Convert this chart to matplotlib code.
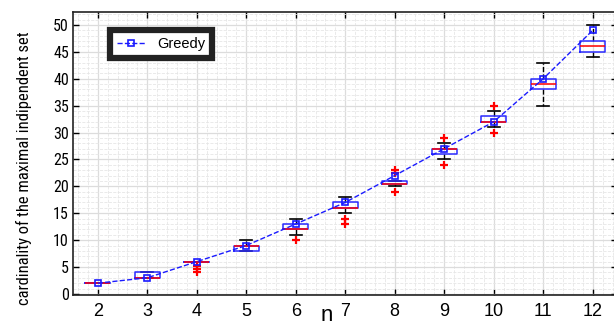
import numpy as np
import matplotlib
matplotlib.use('Agg')
import matplotlib.pyplot as plt
from matplotlib import font_manager
from matplotlib.ticker import MultipleLocator, AutoMinorLocator

# data
n_values = [2, 3, 4, 5, 6, 7, 8, 9, 10, 11, 12]
q1 = [2, 3, 6, 8, 12, 16, 20.5, 26, 32, 38, 45]
med = [2, 3, 6, 9, 12, 16, 20.5, 27, 32, 39, 46]
q3 = [2, 4, 6, 9, 13, 17, 21, 27, 33, 40, 47]
whislo = [2, 3, 6, 8, 11, 15, 20, 25, 31, 35, 44]
whishi = [2, 4, 6, 10, 14, 18, 21, 28, 34, 43, 50]
fliers = [[], [], [5.1, 4.7, 4], [], [10], [14, 13], [23, 22.4, 19], [29, 24], [35, 30], [], []]
greedy = [2, 3, 6, 9, 13, 17, 22, 27, 32, 40, 49]

names = {f.name for f in font_manager.fontManager.ttflist}
narrow = next((n for n in ['Liberation Sans Narrow', 'DejaVu Sans Condensed', 'Roboto Condensed']
               if n in names), 'Liberation Sans')

fig = plt.figure(figsize=(6.14, 3.27), dpi=100)
ax = fig.add_axes([73 / 614, 32 / 327, 544.5 / 614, 283 / 327])

stats = []
for i in range(len(n_values)):
    stats.append(dict(q1=q1[i], med=med[i], q3=q3[i], whislo=whislo[i],
                      whishi=whishi[i], fliers=fliers[i]))

# caps/whiskers under the boxes, like matlab
ax.bxp(stats, positions=n_values, widths=0.5, manage_ticks=False,
       boxprops=dict(color='#2a2aff', linewidth=1.1, zorder=4),
       medianprops=dict(color='red', linewidth=1.1, zorder=5),
       whiskerprops=dict(color='black', linestyle='--', linewidth=1, zorder=2),
       capprops=dict(color='black', linewidth=1.2, zorder=2),
       capwidths=0.24,
       flierprops=dict(marker='+', markeredgecolor='red', markersize=6, markeredgewidth=1.6))

ax.plot(n_values, greedy, '--s', color='#1a1aff', linewidth=1, markersize=4,
        markerfacecolor='none', markeredgewidth=1.2, label='Greedy', zorder=6)

ax.set_xlim(1.5, 12.5)
ax.set_ylim(-0.2, 52.4)
ax.xaxis.set_major_locator(MultipleLocator(1))
ax.yaxis.set_major_locator(MultipleLocator(5))
ax.xaxis.set_minor_locator(AutoMinorLocator(5))
ax.yaxis.set_minor_locator(AutoMinorLocator(5))
ax.grid(which='major', color='#dcdcdc', linewidth=0.9)
ax.grid(which='minor', color='#e6e6e6', linestyle='--', linewidth=0.6)
ax.set_axisbelow(True)
ax.tick_params(which='major', direction='in', length=4, top=True, right=True, width=1)
ax.tick_params(which='minor', length=0)
for s in ax.spines.values():
    s.set_linewidth(1.2)
    s.set_color('#222222')

for lab in ax.get_xticklabels():
    lab.set_fontfamily('Liberation Sans')
    lab.set_fontsize(13)
for lab in ax.get_yticklabels():
    lab.set_fontfamily(narrow)
    lab.set_fontsize(11.5)
ax.tick_params(axis='x', pad=6)
ax.tick_params(axis='y', pad=3)

ax.set_xlabel('n', fontsize=16, fontfamily='Liberation Sans')
ax.xaxis.set_label_coords(0.466, -0.092)
ax.xaxis.label.set_va('baseline')

ylab = fig.text(24 / 614, 1 - 168 / 327, 'cardinality of the maximal indipendent set',
                rotation=90, ha='center', va='center', fontfamily=narrow, fontsize=12)
fig.canvas.draw()
bb = ylab.get_window_extent()
ylab.set_fontsize(12 * 273 / bb.height)

leg = ax.legend(loc='upper left', bbox_to_anchor=(0.068, 0.935), borderaxespad=0,
                fancybox=False, framealpha=1, prop={'family': 'Liberation Sans', 'size': 10.5},
                handlelength=2.0, borderpad=0.45)
leg.get_frame().set_edgecolor('#222222')
leg.get_frame().set_linewidth(4.5)

fig.savefig('out.png', dpi=100)
